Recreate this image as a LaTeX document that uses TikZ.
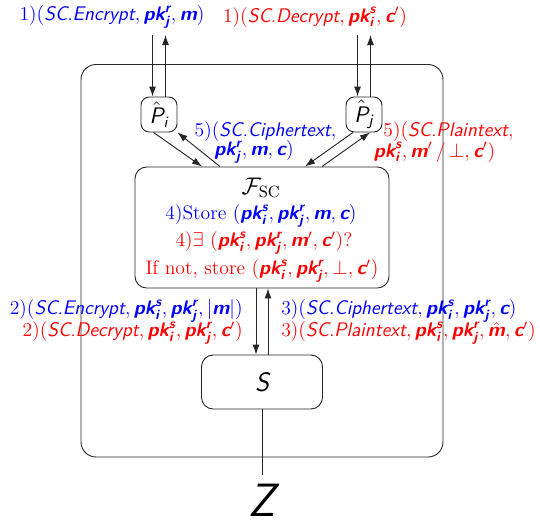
\documentclass[tikz,border=0pt]{standalone}
\usepackage{fontspec}
\usepackage{amsmath}
\usetikzlibrary{arrows.meta,calc}

% sans oblique names and bold sans oblique variables
\newcommand{\sfm}[1]{\text{\sffamily\itshape #1}}
\newcommand{\sfb}[1]{\text{\sffamily\bfseries\itshape #1}}
\newcommand{\pkk}[2]{\sfb{pk}_{\sfb{#1}}^{\sfb{#2}}}

\tikzset{
  wire/.style={draw=black!85, line width=0.55pt},
  arr/.style={wire, -{Latex[length=6pt,width=4.2pt]}},
  party/.style={draw=black!85, line width=0.55pt, rounded corners=5pt,
    minimum width=21.6pt, minimum height=21pt, inner sep=0pt,
    font=\fontsize{13.5}{15}\selectfont},
  func/.style={draw=black!85, line width=0.55pt, rounded corners=7pt,
    minimum width=152.4pt, minimum height=72.6pt, inner sep=0pt},
  sim/.style={draw=black!85, line width=0.55pt, rounded corners=7pt,
    minimum width=72.6pt, minimum height=32.4pt, inner sep=0pt,
    font=\fontsize{16}{18}\selectfont\sffamily\itshape},
  lb/.style={inner sep=0pt, font=\fontsize{11.8}{14}\selectfont},
  blu/.style={lb, text=blue},
  rd/.style={lb, text=red},
}

\begin{document}
\begin{tikzpicture}[x=0.6pt, y=-0.6pt]
\useasboundingbox (0,0) rectangle (540,519);

% environment frame
\draw[wire, rounded corners=9pt] (81,64.5) rectangle (443,457);

% parties, functionality, simulator
\node[party] (Pi) at (159,114.5) {$\hat{\sfm{P}}_{\sfm{i}}$};
\node[party] (Pj) at (364,114.5) {$\hat{\sfm{P}}_{\sfm{j}}$};
\node[func] (F) at (262,227.5) {};
\node[sim] (S) at (262,382) {S};
\node[lb, anchor=north, inner sep=5.5pt, font=\fontsize{28}{30}\selectfont\sffamily\itshape] (Z) at (262,475) {Z};

% inputs and outputs of the parties
\coordinate (piIn) at (152.5,35);
\coordinate (piOut) at (165.5,35);
\coordinate (pjIn) at (357.5,35);
\coordinate (pjOut) at (370.5,35);
\draw[arr] (piIn) -- (piIn |- Pi.north);
\draw[arr] (piOut |- Pi.north) -- (piOut);
\draw[arr] (pjIn) -- (pjIn |- Pj.north);
\draw[arr] (pjOut |- Pj.north) -- (pjOut);

% parties <-> functionality
\draw[arr] ($(Pi.south)+(-5.5,0)$) -- ($(F.north)+(-60,0)$);
\draw[arr] ($(F.north)+(-42,0)$) -- (Pi.south east);
\draw[arr] ($(Pj.south)+(-11,0)$) -- ($(F.north)+(43,0)$);
\draw[arr] ($(F.north)+(60,0)$) -- ($(Pj.south)+(6,0)$);

% functionality <-> simulator
\draw[arr] ($(F.south)+(-6,0)$) -- ($(S.north)+(-6,0)$);
\draw[arr] ($(S.north)+(6,0)$) -- ($(F.south)+(6,0)$);

% simulator -- environment
\draw[wire] (S.south) -- (Z.north);

% step 1
\node[blu] (l1a) at (112,17) {1)$(\sfm{SC.Encrypt}, \pkk{j}{r}, \sfb{m})$};
\node[rd] (l1b) at (315,17) {1)$(\sfm{SC.Decrypt}, \pkk{i}{s}, \sfb{c}')$};

% contents of the functionality
\node[lb, font=\fontsize{14}{16}\selectfont] (Ft) at (261,188) {$\mathcal{F}_{\mathrm{SC}}$};
\node[blu] (F4a) at (261,216) {4)Store $(\pkk{i}{s}, \pkk{j}{r}, \sfb{m}, \sfb{c})$};
\node[rd] (F4b) at (264,243) {4)$\exists$ $(\pkk{i}{s}, \pkk{j}{r}, \sfb{m}', \sfb{c}')$?};
\node[rd] (F4c) at (262,271) {If not, store $(\pkk{i}{s}, \pkk{j}{r}, \bot, \sfb{c}')$};

% step 5
\node[blu] (l5a) at (265.5,131) {5)$(\sfm{SC.Ciphertext},$};
\node[blu] (l5b) at (254,152) {$\pkk{j}{r}, \sfb{m}, \sfb{c})$};
\node[rd] (l5c) at (448.5,131) {5)$(\sfm{SC.Plaintext},$};
\node[rd] (l5d) at (434.5,152) {$\pkk{i}{s}, \sfb{m}'\,/\,\bot, \sfb{c}')$};

% steps 2 and 3
\node[blu, anchor=east] (l2a) at (243,311) {2)$(\sfm{SC.Encrypt}, \pkk{i}{s}, \pkk{j}{r}, |\sfb{m}|)$};
\node[rd, anchor=east] (l2b) at (243,333) {2)$(\sfm{SC.Decrypt}, \pkk{i}{s}, \pkk{j}{r}, \sfb{c}')$};
\node[blu, anchor=west] (l3a) at (281,311) {3)$(\sfm{SC.Ciphertext}, \pkk{i}{s}, \pkk{j}{r}, \sfb{c})$};
\node[rd, anchor=west] (l3b) at (281,333) {3)$(\sfm{SC.Plaintext}, \pkk{i}{s}, \pkk{j}{r}, \hat{\sfb{m}}, \sfb{c}')$};
\end{tikzpicture}
\end{document}
